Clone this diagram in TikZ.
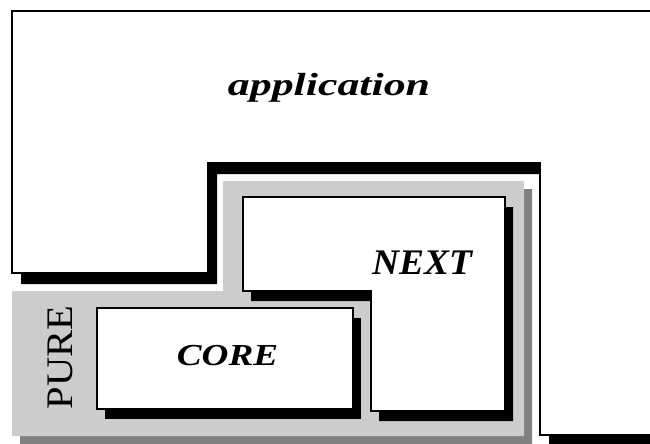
\documentclass[tikz,border=0pt]{standalone}
\usepackage{fontspec}
\setmainfont{Liberation Serif}
\definecolor{puregray}{HTML}{CCCCCC}
\definecolor{pureshadow}{HTML}{808080}
\tikzset{
  boxshape/.style={fill=white, draw=black, line width=2pt, line join=miter},
  blackshadow/.style={fill=black},
  graybox/.style={fill=puregray},
  grayshadow/.style={fill=pureshadow},
  lbl/.style={font=\bfseries\itshape, inner sep=0pt, anchor=base},
  purelbl/.style={inner sep=0pt, anchor=base, rotate=90},
}
\begin{document}
\begin{tikzpicture}[x=1pt,y=-1pt]
\clip (0,0) rectangle (650,444);
\fill[white] (0,0) rectangle (650,444);
% application
\fill[blackshadow, shift={(9,11)}] (12,11) -- (650.6,11) -- (650.6,435) -- (540,435) -- (540,163) -- (208,163) -- (208,273) -- (12,273) -- cycle;
\path[boxshape] (12,11) -- (650.6,11) -- (650.6,435) -- (540,435) -- (540,163) -- (208,163) -- (208,273) -- (12,273) -- cycle;
% PURE
\fill[grayshadow, shift={(8,8)}] (12,291) -- (223,291) -- (223,181) -- (524,181) -- (524,436) -- (12,436) -- cycle;
\fill[graybox] (12,291) -- (223,291) -- (223,181) -- (524,181) -- (524,436) -- (12,436) -- cycle;
% NEXT
\fill[blackshadow, shift={(8,10)}] (243,197) -- (505,197) -- (505,411) -- (371,411) -- (371,291) -- (243,291) -- cycle;
\path[boxshape] (243,197) -- (505,197) -- (505,411) -- (371,411) -- (371,291) -- (243,291) -- cycle;
% CORE
\fill[blackshadow, shift={(8,10)}] (97,308) rectangle (353,409);
\path[boxshape] (97,308) rectangle (353,409);
% labels
\node[lbl] (app) at (329,95) {\scalebox{1.37}[1]{\fontsize{32}{32}\selectfont application}};
\node[lbl] (next) at (422,274) {\scalebox{1.04}[1]{\fontsize{36}{36}\selectfont NEXT}};
\node[lbl] (core) at (227.5,365.5) {\scalebox{1.22}[1]{\fontsize{30.5}{30.5}\selectfont CORE}};
\node[purelbl] (pure) at (72,357.5) {\scalebox{1.08}[1]{\fontsize{37.5}{37.5}\selectfont PURE}};
\end{tikzpicture}
\end{document}
